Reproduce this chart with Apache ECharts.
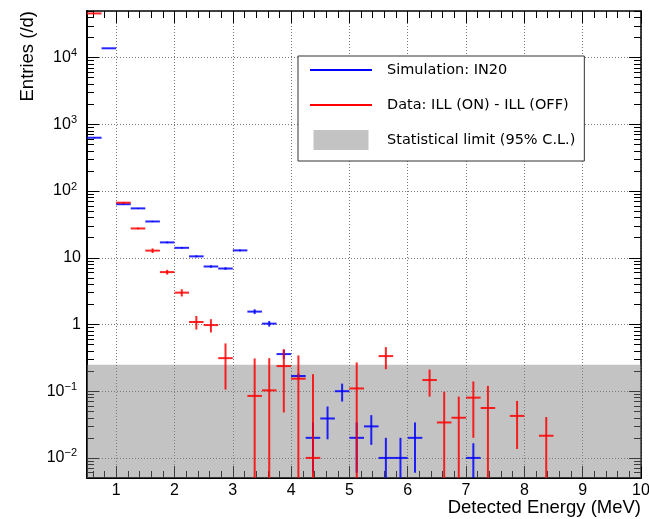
<!DOCTYPE html>
<html>
<head>
<meta charset="utf-8">
<script src="https://cdn.jsdelivr.net/npm/echarts@6/dist/echarts.min.js"></script>
<style>
html,body{margin:0;padding:0;background:#fff}
#main{width:649px;height:519px}
</style>
</head>
<body>
<div id="main"></div>
<script>
// bins are 0.25 MeV wide, x = bin centre
const binWidth = 0.25;

// Simulation: IN20
const simX   = [0.625, 0.875, 1.125, 1.375, 1.625, 1.875, 2.125, 2.375, 2.625, 2.875, 3.125, 3.375, 3.625, 3.875, 4.125, 4.375, 4.625, 4.875, 5.125, 5.375, 5.625, 5.875, 6.125, 7.125];
const simY   = [630, 13800, 63.5, 55, 35, 17, 14.1, 10.5, 7.4, 6.9, 12.9, 1.56, 1.03, 0.36, 0.169, 0.02, 0.039, 0.1, 0.02, 0.0297, 0.01, 0.01, 0.02, 0.01];
const simErr = [12, 60, 1, 0.9, 0.7, 0.5, 0.4, 0.35, 0.3, 0.3, 0.4, 0.13, 0.1, 0.055, 0.015, 0.014, 0.02, 0.03, 0.014, 0.014, 0.01, 0.01, 0.014, 0.0066];

// Data: ILL (ON) - ILL (OFF)
const dataX   = [0.625, 1.125, 1.375, 1.625, 1.875, 2.125, 2.375, 2.625, 2.875, 3.375, 3.625, 3.875, 4.125, 4.375, 5.125, 5.625, 6.375, 6.625, 6.875, 7.125, 7.375, 7.875, 8.375];
const dataY   = [46000, 67, 27.5, 12.8, 6.1, 3.0, 1.09, 0.98, 0.313, 0.085, 0.103, 0.238, 0.154, 0.01, 0.11, 0.336, 0.147, 0.034, 0.04, 0.08, 0.056, 0.0426, 0.0215];
const dataErr = [200, 1.5, 0.8, 1.0, 0.5, 0.37, 0.25, 0.22, 0.207, 0.225, 0.21, 0.19, 0.19, 0.17, 0.16, 0.122, 0.064, 0.064, 0.043, 0.06, 0.064, 0.029, 0.0195];

// statistical limit (95% C.L.)
const limitY = 0.25;

const xMin = 0.5, xMax = 10;
const yMin = 0.005, yMax = 50000;

const xMajor = [1, 2, 3, 4, 5, 6, 7, 8, 9, 10];
const yMajor = [0.01, 0.1, 1, 10, 100, 1000, 10000];
const yLabels = ['10{sup|\u22122}', '10{sup|\u22121}', '1', '10', '10{sup|2}', '10{sup|3}', '10{sup|4}'];

let xMinor = [];
for (let i = 3; i <= 50; i++) xMinor.push(+(i * 0.2).toFixed(1));
let yMinor = [];
for (let e = -3; e <= 4; e++) {
	for (let m = 2; m <= 9; m++) {
		let v = +(m * Math.pow(10, e)).toPrecision(3);
		if (v >= yMin && v <= yMax) yMinor.push(v);
	}
}

const font = 'Liberation Sans';
const gridLine = {show: true, lineStyle: {color: '#777', width: 1, type: [1, 2]}};

function pts(xs, ys, es) {
	return xs.map((x, i) => [x, ys[i], es[i]]);
}

function renderErr(params, api) {
	let x = api.value(0), y = api.value(1), e = api.value(2);
	let lo = Math.max(y - e, yMin);
	let hi = y + e;
	let pL = api.coord([x - binWidth / 2, y]);
	let pR = api.coord([x + binWidth / 2, y]);
	let pB = api.coord([x, lo]);
	let pT = api.coord([x, hi]);
	let c = api.visual('color');
	return {
		type: 'group',
		children: [
			{type: 'line', shape: {x1: pL[0], y1: pL[1], x2: pR[0], y2: pR[1]}, style: {stroke: c, lineWidth: 2, opacity: 0.85}},
			{type: 'line', shape: {x1: pB[0], y1: pB[1], x2: pT[0], y2: pT[1]}, style: {stroke: c, lineWidth: 2, opacity: 0.85}}
		]
	};
}

function renderBand(params, api) {
	let p0 = api.coord([xMin, yMin]);
	let p1 = api.coord([xMax, api.value(1)]);
	return {
		type: 'rect',
		shape: {x: p0[0], y: p1[1], width: p1[0] - p0[0], height: p0[1] - p1[1]},
		style: {fill: api.visual('color')}
	};
}

function tickAxis(pos, values, len, lineWidth, type) {
	let a = {
		type: type,
		position: pos,
		min: type === 'log' ? yMin : xMin,
		max: type === 'log' ? yMax : xMax,
		axisLine: {show: lineWidth > 0, onZero: false, lineStyle: {color: '#000', width: lineWidth}},
		axisTick: {show: true, inside: true, length: len, customValues: values, lineStyle: {color: '#000', width: 1}},
		axisLabel: {show: false},
		splitLine: {show: false}
	};
	if (type === 'log') a.logBase = 10;
	return a;
}

var myChart = echarts.init(document.getElementById('main'));
let option = {
	animation: false,
	backgroundColor: '#fff',
	grid: {left: 87, right: 8, top: 11, bottom: 41, containLabel: false, outerBoundsMode: 'none'},
	legend: {
		orient: 'vertical',
		left: 298,
		top: 56,
		itemWidth: 62,
		itemHeight: 20,
		itemGap: 15,
		padding: [4, 9, 11, 12],
		backgroundColor: '#fff',
		borderColor: '#333',
		borderWidth: 1,
		borderRadius: 0,
		selectedMode: false,
		textStyle: {fontFamily: 'DejaVu Sans', fontSize: 14.5, lineHeight: 20, color: '#000', padding: [0, 0, 0, 10]},
		data: [
			{name: 'Simulation: IN20', icon: 'path://M0,0H62V2H0Z'},
			{name: 'Data: ILL (ON) - ILL (OFF)', icon: 'path://M0,0H62V2H0Z'},
			{name: 'Statistical limit (95% C.L.)', icon: 'path://M0,0H55V20H0Z'}
		]
	},
	xAxis: [
		{
			type: 'value',
			position: 'bottom',
			min: xMin,
			max: xMax,
			name: 'Detected Energy (MeV)',
			nameLocation: 'end',
			nameGap: 0,
			nameMoveOverlap: false,
			nameTextStyle: {fontFamily: font, fontSize: 18.5, color: '#000', align: 'right', verticalAlign: 'top', padding: [20, 0, 0, 0]},
			axisLine: {show: true, onZero: false, lineStyle: {color: '#000', width: 2}},
			axisTick: {show: true, inside: true, length: 12, customValues: xMajor, lineStyle: {color: '#000', width: 1}},
			axisLabel: {show: true, customValues: xMajor, margin: 5, fontFamily: font, fontSize: 16, color: '#000'},
			splitLine: gridLine
		},
		tickAxis('bottom', xMinor, 7, 0, 'value'),
		tickAxis('top', xMajor, 12, 1.5, 'value'),
		tickAxis('top', xMinor, 7, 0, 'value')
	],
	yAxis: [
		{
			type: 'log',
			logBase: 10,
			position: 'left',
			min: yMin,
			max: yMax,
			name: 'Entries (/d)',
			nameLocation: 'end',
			nameGap: 0,
			nameRotate: 90,
			nameMoveOverlap: false,
			nameTextStyle: {fontFamily: font, fontSize: 18.5, color: '#000', align: 'right', verticalAlign: 'bottom', padding: [0, 0, 50, 0]},
			axisLine: {show: true, onZero: false, lineStyle: {color: '#000', width: 2}},
			axisTick: {show: true, inside: true, length: 12, customValues: yMajor, lineStyle: {color: '#000', width: 1}},
			axisLabel: {
				show: true,
				customValues: yMajor,
				margin: 6,
				fontFamily: font,
				fontSize: 16,
				color: '#000',
				formatter: function (v) {
					let i = yMajor.findIndex(t => Math.abs(Math.log10(t) - Math.log10(v)) < 1e-6);
					return i >= 0 ? yLabels[i] : '';
				},
				rich: {sup: {fontFamily: font, fontSize: 11, color: '#000', padding: [0, 4, 9, 0]}}
			},
			splitLine: gridLine
		},
		tickAxis('left', yMinor, 7, 0, 'log'),
		tickAxis('right', yMajor, 12, 1.5, 'log'),
		tickAxis('right', yMinor, 7, 0, 'log')
	],
	series: [
		{
			name: 'Statistical limit (95% C.L.)',
			type: 'custom',
			xAxisIndex: 0,
			yAxisIndex: 0,
			itemStyle: {color: 'rgba(128,128,128,0.47)'},
			renderItem: renderBand,
			data: [[xMin, limitY]],
			silent: true,
			z: 1
		},
		{
			name: 'Simulation: IN20',
			type: 'custom',
			xAxisIndex: 0,
			yAxisIndex: 0,
			clip: true,
			itemStyle: {color: '#0000ff'},
			renderItem: renderErr,
			encode: {x: 0, y: 1},
			data: pts(simX, simY, simErr),
			z: 2
		},
		{
			name: 'Data: ILL (ON) - ILL (OFF)',
			type: 'custom',
			xAxisIndex: 0,
			yAxisIndex: 0,
			clip: true,
			itemStyle: {color: '#ff0000'},
			renderItem: renderErr,
			encode: {x: 0, y: 1},
			data: pts(dataX, dataY, dataErr),
			z: 3
		}
	]
};
myChart.setOption(option);
</script>
</body>
</html>
